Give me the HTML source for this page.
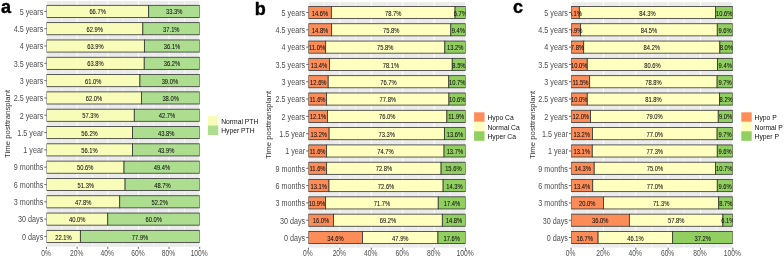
<!DOCTYPE html>
<html><head><meta charset="utf-8"><title>Figure</title>
<style>
html,body{margin:0;padding:0;background:#fff;width:784px;height:258px;overflow:hidden;font-family:"Liberation Sans",sans-serif;}
svg{display:block;will-change:transform;}
</style></head><body>
<svg width="784" height="258" viewBox="0 0 784 258">
<rect width="784" height="258" fill="#FFFFFF"/>
<clipPath id="clipa"><rect x="46.5" y="1" width="153.2" height="245.8"/></clipPath>
<rect x="46.5" y="1" width="153.2" height="245.8" fill="#EBEBEB"/>
<line x1="46.5" y1="1" x2="46.5" y2="246.8" stroke="#FFFFFF" stroke-width="1.0"/>
<line x1="61.82" y1="1" x2="61.82" y2="246.8" stroke="#FFFFFF" stroke-width="0.55"/>
<line x1="77.14" y1="1" x2="77.14" y2="246.8" stroke="#FFFFFF" stroke-width="1.0"/>
<line x1="92.46" y1="1" x2="92.46" y2="246.8" stroke="#FFFFFF" stroke-width="0.55"/>
<line x1="107.78" y1="1" x2="107.78" y2="246.8" stroke="#FFFFFF" stroke-width="1.0"/>
<line x1="123.1" y1="1" x2="123.1" y2="246.8" stroke="#FFFFFF" stroke-width="0.55"/>
<line x1="138.42" y1="1" x2="138.42" y2="246.8" stroke="#FFFFFF" stroke-width="1.0"/>
<line x1="153.74" y1="1" x2="153.74" y2="246.8" stroke="#FFFFFF" stroke-width="0.55"/>
<line x1="169.06" y1="1" x2="169.06" y2="246.8" stroke="#FFFFFF" stroke-width="1.0"/>
<line x1="184.38" y1="1" x2="184.38" y2="246.8" stroke="#FFFFFF" stroke-width="0.55"/>
<line x1="199.7" y1="1" x2="199.7" y2="246.8" stroke="#FFFFFF" stroke-width="1.0"/>
<g clip-path="url(#clipa)">
<rect x="46.5" y="5.33" width="102.18" height="12.12" fill="#F7FCB9" stroke="#333" stroke-width="0.8"/>
<rect x="148.68" y="5.33" width="51.02" height="12.12" fill="#ADDD8E" stroke="#333" stroke-width="0.8"/>
<rect x="46.5" y="22.64" width="96.36" height="12.12" fill="#F7FCB9" stroke="#333" stroke-width="0.8"/>
<rect x="142.86" y="22.64" width="56.84" height="12.12" fill="#ADDD8E" stroke="#333" stroke-width="0.8"/>
<rect x="46.5" y="39.95" width="97.89" height="12.12" fill="#F7FCB9" stroke="#333" stroke-width="0.8"/>
<rect x="144.39" y="39.95" width="55.31" height="12.12" fill="#ADDD8E" stroke="#333" stroke-width="0.8"/>
<rect x="46.5" y="57.26" width="97.74" height="12.12" fill="#F7FCB9" stroke="#333" stroke-width="0.8"/>
<rect x="144.24" y="57.26" width="55.46" height="12.12" fill="#ADDD8E" stroke="#333" stroke-width="0.8"/>
<rect x="46.5" y="74.57" width="93.45" height="12.12" fill="#F7FCB9" stroke="#333" stroke-width="0.8"/>
<rect x="139.95" y="74.57" width="59.75" height="12.12" fill="#ADDD8E" stroke="#333" stroke-width="0.8"/>
<rect x="46.5" y="91.88" width="94.98" height="12.12" fill="#F7FCB9" stroke="#333" stroke-width="0.8"/>
<rect x="141.48" y="91.88" width="58.22" height="12.12" fill="#ADDD8E" stroke="#333" stroke-width="0.8"/>
<rect x="46.5" y="109.19" width="87.78" height="12.12" fill="#F7FCB9" stroke="#333" stroke-width="0.8"/>
<rect x="134.28" y="109.19" width="65.42" height="12.12" fill="#ADDD8E" stroke="#333" stroke-width="0.8"/>
<rect x="46.5" y="126.5" width="86.1" height="12.12" fill="#F7FCB9" stroke="#333" stroke-width="0.8"/>
<rect x="132.6" y="126.5" width="67.1" height="12.12" fill="#ADDD8E" stroke="#333" stroke-width="0.8"/>
<rect x="46.5" y="143.81" width="85.95" height="12.12" fill="#F7FCB9" stroke="#333" stroke-width="0.8"/>
<rect x="132.45" y="143.81" width="67.25" height="12.12" fill="#ADDD8E" stroke="#333" stroke-width="0.8"/>
<rect x="46.5" y="161.12" width="77.52" height="12.12" fill="#F7FCB9" stroke="#333" stroke-width="0.8"/>
<rect x="124.02" y="161.12" width="75.68" height="12.12" fill="#ADDD8E" stroke="#333" stroke-width="0.8"/>
<rect x="46.5" y="178.43" width="78.59" height="12.12" fill="#F7FCB9" stroke="#333" stroke-width="0.8"/>
<rect x="125.09" y="178.43" width="74.61" height="12.12" fill="#ADDD8E" stroke="#333" stroke-width="0.8"/>
<rect x="46.5" y="195.74" width="73.23" height="12.12" fill="#F7FCB9" stroke="#333" stroke-width="0.8"/>
<rect x="119.73" y="195.74" width="79.97" height="12.12" fill="#ADDD8E" stroke="#333" stroke-width="0.8"/>
<rect x="46.5" y="213.05" width="61.28" height="12.12" fill="#F7FCB9" stroke="#333" stroke-width="0.8"/>
<rect x="107.78" y="213.05" width="91.92" height="12.12" fill="#ADDD8E" stroke="#333" stroke-width="0.8"/>
<rect x="46.5" y="230.36" width="33.86" height="12.12" fill="#F7FCB9" stroke="#333" stroke-width="0.8"/>
<rect x="80.36" y="230.36" width="119.34" height="12.12" fill="#ADDD8E" stroke="#333" stroke-width="0.8"/>
<g font-family="Liberation Sans" font-size="5.8" fill="#111" stroke="#111" stroke-width="0.06" text-anchor="middle">
<text transform="translate(97.59 14.49) scale(1 1.1)">66.7%</text>
<text transform="translate(174.19 14.49) scale(1 1.1)">33.3%</text>
<text transform="translate(94.68 31.8) scale(1 1.1)">62.9%</text>
<text transform="translate(171.28 31.8) scale(1 1.1)">37.1%</text>
<text transform="translate(95.45 49.11) scale(1 1.1)">63.9%</text>
<text transform="translate(172.05 49.11) scale(1 1.1)">36.1%</text>
<text transform="translate(95.37 66.42) scale(1 1.1)">63.8%</text>
<text transform="translate(171.97 66.42) scale(1 1.1)">36.2%</text>
<text transform="translate(93.23 83.73) scale(1 1.1)">61.0%</text>
<text transform="translate(169.83 83.73) scale(1 1.1)">39.0%</text>
<text transform="translate(93.99 101.04) scale(1 1.1)">62.0%</text>
<text transform="translate(170.59 101.04) scale(1 1.1)">38.0%</text>
<text transform="translate(90.39 118.35) scale(1 1.1)">57.3%</text>
<text transform="translate(166.99 118.35) scale(1 1.1)">42.7%</text>
<text transform="translate(89.55 135.66) scale(1 1.1)">56.2%</text>
<text transform="translate(166.15 135.66) scale(1 1.1)">43.8%</text>
<text transform="translate(89.47 152.97) scale(1 1.1)">56.1%</text>
<text transform="translate(166.07 152.97) scale(1 1.1)">43.9%</text>
<text transform="translate(85.26 170.28) scale(1 1.1)">50.6%</text>
<text transform="translate(161.86 170.28) scale(1 1.1)">49.4%</text>
<text transform="translate(85.8 187.59) scale(1 1.1)">51.3%</text>
<text transform="translate(162.4 187.59) scale(1 1.1)">48.7%</text>
<text transform="translate(83.11 204.9) scale(1 1.1)">47.8%</text>
<text transform="translate(159.71 204.9) scale(1 1.1)">52.2%</text>
<text transform="translate(77.14 222.21) scale(1 1.1)">40.0%</text>
<text transform="translate(153.74 222.21) scale(1 1.1)">60.0%</text>
<text transform="translate(63.43 239.52) scale(1 1.1)">22.1%</text>
<text transform="translate(140.03 239.52) scale(1 1.1)">77.9%</text>
</g></g>
<g font-family="Liberation Sans" font-size="7.2" fill="#4D4D4D" text-anchor="end">
<line x1="44.3" y1="11.39" x2="46.5" y2="11.39" stroke="#333" stroke-width="0.75"/>
<text transform="translate(43.3 14.69) scale(1 1.15)">5 years</text>
<line x1="44.3" y1="28.7" x2="46.5" y2="28.7" stroke="#333" stroke-width="0.75"/>
<text transform="translate(43.3 32) scale(1 1.15)">4.5 years</text>
<line x1="44.3" y1="46.01" x2="46.5" y2="46.01" stroke="#333" stroke-width="0.75"/>
<text transform="translate(43.3 49.31) scale(1 1.15)">4 years</text>
<line x1="44.3" y1="63.32" x2="46.5" y2="63.32" stroke="#333" stroke-width="0.75"/>
<text transform="translate(43.3 66.62) scale(1 1.15)">3.5 years</text>
<line x1="44.3" y1="80.63" x2="46.5" y2="80.63" stroke="#333" stroke-width="0.75"/>
<text transform="translate(43.3 83.93) scale(1 1.15)">3 years</text>
<line x1="44.3" y1="97.94" x2="46.5" y2="97.94" stroke="#333" stroke-width="0.75"/>
<text transform="translate(43.3 101.24) scale(1 1.15)">2.5 years</text>
<line x1="44.3" y1="115.25" x2="46.5" y2="115.25" stroke="#333" stroke-width="0.75"/>
<text transform="translate(43.3 118.55) scale(1 1.15)">2 years</text>
<line x1="44.3" y1="132.56" x2="46.5" y2="132.56" stroke="#333" stroke-width="0.75"/>
<text transform="translate(43.3 135.86) scale(1 1.15)">1.5 year</text>
<line x1="44.3" y1="149.87" x2="46.5" y2="149.87" stroke="#333" stroke-width="0.75"/>
<text transform="translate(43.3 153.17) scale(1 1.15)">1 year</text>
<line x1="44.3" y1="167.18" x2="46.5" y2="167.18" stroke="#333" stroke-width="0.75"/>
<text transform="translate(43.3 170.48) scale(1 1.15)">9 months</text>
<line x1="44.3" y1="184.49" x2="46.5" y2="184.49" stroke="#333" stroke-width="0.75"/>
<text transform="translate(43.3 187.79) scale(1 1.15)">6 months</text>
<line x1="44.3" y1="201.8" x2="46.5" y2="201.8" stroke="#333" stroke-width="0.75"/>
<text transform="translate(43.3 205.1) scale(1 1.15)">3 months</text>
<line x1="44.3" y1="219.11" x2="46.5" y2="219.11" stroke="#333" stroke-width="0.75"/>
<text transform="translate(43.3 222.41) scale(1 1.15)">30 days</text>
<line x1="44.3" y1="236.42" x2="46.5" y2="236.42" stroke="#333" stroke-width="0.75"/>
<text transform="translate(43.3 239.72) scale(1 1.15)">0 days</text>
</g>
<g font-family="Liberation Sans" font-size="6.7" fill="#4D4D4D" text-anchor="middle">
<line x1="46.5" y1="246.8" x2="46.5" y2="248.9" stroke="#333" stroke-width="0.75"/>
<text transform="translate(46 255.8) scale(1 1.24)">0%</text>
<line x1="77.14" y1="246.8" x2="77.14" y2="248.9" stroke="#333" stroke-width="0.75"/>
<text transform="translate(76.64 255.8) scale(1 1.24)">20%</text>
<line x1="107.78" y1="246.8" x2="107.78" y2="248.9" stroke="#333" stroke-width="0.75"/>
<text transform="translate(107.28 255.8) scale(1 1.24)">40%</text>
<line x1="138.42" y1="246.8" x2="138.42" y2="248.9" stroke="#333" stroke-width="0.75"/>
<text transform="translate(137.92 255.8) scale(1 1.24)">60%</text>
<line x1="169.06" y1="246.8" x2="169.06" y2="248.9" stroke="#333" stroke-width="0.75"/>
<text transform="translate(168.56 255.8) scale(1 1.24)">80%</text>
<line x1="199.7" y1="246.8" x2="199.7" y2="248.9" stroke="#333" stroke-width="0.75"/>
<text transform="translate(199.2 255.8) scale(1 1.24)">100%</text>
</g>
<text x="0" y="0" transform="translate(9.5 123.9) rotate(-90)" font-family="Liberation Sans" font-size="7.8" fill="#333" text-anchor="middle">Time posttransplant</text>
<text x="1" y="13" font-family="Liberation Sans" font-size="18" font-weight="bold" fill="#000" stroke="#000" stroke-width="0.4">a</text>
<rect x="207.9" y="116" width="10.4" height="9.5" fill="#F7FCB9"/>
<text x="221.2" y="123.85" font-family="Liberation Sans" font-size="6.75" fill="#111">Normal PTH</text>
<rect x="207.9" y="125.5" width="10.4" height="9.5" fill="#ADDD8E"/>
<text x="221.2" y="133.35" font-family="Liberation Sans" font-size="6.75" fill="#111">Hyper PTH</text>
<clipPath id="clipb"><rect x="308.4" y="2.1" width="157.2" height="245.6"/></clipPath>
<rect x="308.4" y="2.1" width="157.2" height="245.6" fill="#EBEBEB"/>
<line x1="308.4" y1="2.1" x2="308.4" y2="247.7" stroke="#FFFFFF" stroke-width="1.0"/>
<line x1="324.12" y1="2.1" x2="324.12" y2="247.7" stroke="#FFFFFF" stroke-width="0.55"/>
<line x1="339.84" y1="2.1" x2="339.84" y2="247.7" stroke="#FFFFFF" stroke-width="1.0"/>
<line x1="355.56" y1="2.1" x2="355.56" y2="247.7" stroke="#FFFFFF" stroke-width="0.55"/>
<line x1="371.28" y1="2.1" x2="371.28" y2="247.7" stroke="#FFFFFF" stroke-width="1.0"/>
<line x1="387" y1="2.1" x2="387" y2="247.7" stroke="#FFFFFF" stroke-width="0.55"/>
<line x1="402.72" y1="2.1" x2="402.72" y2="247.7" stroke="#FFFFFF" stroke-width="1.0"/>
<line x1="418.44" y1="2.1" x2="418.44" y2="247.7" stroke="#FFFFFF" stroke-width="0.55"/>
<line x1="434.16" y1="2.1" x2="434.16" y2="247.7" stroke="#FFFFFF" stroke-width="1.0"/>
<line x1="449.88" y1="2.1" x2="449.88" y2="247.7" stroke="#FFFFFF" stroke-width="0.55"/>
<line x1="465.6" y1="2.1" x2="465.6" y2="247.7" stroke="#FFFFFF" stroke-width="1.0"/>
<g clip-path="url(#clipb)">
<rect x="308.4" y="6.43" width="22.95" height="12.12" fill="#FC8D59" stroke="#333" stroke-width="0.8"/>
<rect x="331.35" y="6.43" width="123.72" height="12.12" fill="#FFFFBF" stroke="#333" stroke-width="0.8"/>
<rect x="455.07" y="6.43" width="10.53" height="12.12" fill="#91CF60" stroke="#333" stroke-width="0.8"/>
<rect x="308.4" y="23.74" width="23.27" height="12.12" fill="#FC8D59" stroke="#333" stroke-width="0.8"/>
<rect x="331.67" y="23.74" width="119.16" height="12.12" fill="#FFFFBF" stroke="#333" stroke-width="0.8"/>
<rect x="450.82" y="23.74" width="14.78" height="12.12" fill="#91CF60" stroke="#333" stroke-width="0.8"/>
<rect x="308.4" y="41.05" width="17.29" height="12.12" fill="#FC8D59" stroke="#333" stroke-width="0.8"/>
<rect x="325.69" y="41.05" width="119.16" height="12.12" fill="#FFFFBF" stroke="#333" stroke-width="0.8"/>
<rect x="444.85" y="41.05" width="20.75" height="12.12" fill="#91CF60" stroke="#333" stroke-width="0.8"/>
<rect x="308.4" y="58.36" width="21.06" height="12.12" fill="#FC8D59" stroke="#333" stroke-width="0.8"/>
<rect x="329.46" y="58.36" width="122.77" height="12.12" fill="#FFFFBF" stroke="#333" stroke-width="0.8"/>
<rect x="452.24" y="58.36" width="13.36" height="12.12" fill="#91CF60" stroke="#333" stroke-width="0.8"/>
<rect x="308.4" y="75.67" width="19.81" height="12.12" fill="#FC8D59" stroke="#333" stroke-width="0.8"/>
<rect x="328.21" y="75.67" width="120.57" height="12.12" fill="#FFFFBF" stroke="#333" stroke-width="0.8"/>
<rect x="448.78" y="75.67" width="16.82" height="12.12" fill="#91CF60" stroke="#333" stroke-width="0.8"/>
<rect x="308.4" y="92.98" width="18.24" height="12.12" fill="#FC8D59" stroke="#333" stroke-width="0.8"/>
<rect x="326.64" y="92.98" width="122.3" height="12.12" fill="#FFFFBF" stroke="#333" stroke-width="0.8"/>
<rect x="448.94" y="92.98" width="16.66" height="12.12" fill="#91CF60" stroke="#333" stroke-width="0.8"/>
<rect x="308.4" y="110.29" width="19.02" height="12.12" fill="#FC8D59" stroke="#333" stroke-width="0.8"/>
<rect x="327.42" y="110.29" width="119.47" height="12.12" fill="#FFFFBF" stroke="#333" stroke-width="0.8"/>
<rect x="446.89" y="110.29" width="18.71" height="12.12" fill="#91CF60" stroke="#333" stroke-width="0.8"/>
<rect x="308.4" y="127.6" width="20.75" height="12.12" fill="#FC8D59" stroke="#333" stroke-width="0.8"/>
<rect x="329.15" y="127.6" width="115.23" height="12.12" fill="#FFFFBF" stroke="#333" stroke-width="0.8"/>
<rect x="444.38" y="127.6" width="21.22" height="12.12" fill="#91CF60" stroke="#333" stroke-width="0.8"/>
<rect x="308.4" y="144.91" width="18.24" height="12.12" fill="#FC8D59" stroke="#333" stroke-width="0.8"/>
<rect x="326.64" y="144.91" width="117.43" height="12.12" fill="#FFFFBF" stroke="#333" stroke-width="0.8"/>
<rect x="444.06" y="144.91" width="21.54" height="12.12" fill="#91CF60" stroke="#333" stroke-width="0.8"/>
<rect x="308.4" y="162.22" width="18.24" height="12.12" fill="#FC8D59" stroke="#333" stroke-width="0.8"/>
<rect x="326.64" y="162.22" width="114.44" height="12.12" fill="#FFFFBF" stroke="#333" stroke-width="0.8"/>
<rect x="441.08" y="162.22" width="24.52" height="12.12" fill="#91CF60" stroke="#333" stroke-width="0.8"/>
<rect x="308.4" y="179.53" width="20.59" height="12.12" fill="#FC8D59" stroke="#333" stroke-width="0.8"/>
<rect x="328.99" y="179.53" width="114.13" height="12.12" fill="#FFFFBF" stroke="#333" stroke-width="0.8"/>
<rect x="443.12" y="179.53" width="22.48" height="12.12" fill="#91CF60" stroke="#333" stroke-width="0.8"/>
<rect x="308.4" y="196.84" width="17.13" height="12.12" fill="#FC8D59" stroke="#333" stroke-width="0.8"/>
<rect x="325.53" y="196.84" width="112.71" height="12.12" fill="#FFFFBF" stroke="#333" stroke-width="0.8"/>
<rect x="438.25" y="196.84" width="27.35" height="12.12" fill="#91CF60" stroke="#333" stroke-width="0.8"/>
<rect x="308.4" y="214.15" width="25.15" height="12.12" fill="#FC8D59" stroke="#333" stroke-width="0.8"/>
<rect x="333.55" y="214.15" width="108.78" height="12.12" fill="#FFFFBF" stroke="#333" stroke-width="0.8"/>
<rect x="442.33" y="214.15" width="23.27" height="12.12" fill="#91CF60" stroke="#333" stroke-width="0.8"/>
<rect x="308.4" y="231.46" width="54.23" height="12.12" fill="#FC8D59" stroke="#333" stroke-width="0.8"/>
<rect x="362.63" y="231.46" width="75.3" height="12.12" fill="#FFFFBF" stroke="#333" stroke-width="0.8"/>
<rect x="437.93" y="231.46" width="27.67" height="12.12" fill="#91CF60" stroke="#333" stroke-width="0.8"/>
<g font-family="Liberation Sans" font-size="5.8" fill="#111" stroke="#111" stroke-width="0.06" text-anchor="middle">
<text transform="translate(319.88 15.59) scale(1 1.1)">14.6%</text>
<text transform="translate(393.21 15.59) scale(1 1.1)">78.7%</text>
<text transform="translate(460.33 15.59) scale(1 1.1)">6.7%</text>
<text transform="translate(320.03 32.9) scale(1 1.1)">14.8%</text>
<text transform="translate(391.24 32.9) scale(1 1.1)">75.8%</text>
<text transform="translate(458.21 32.9) scale(1 1.1)">9.4%</text>
<text transform="translate(317.05 50.21) scale(1 1.1)">11.0%</text>
<text transform="translate(385.27 50.21) scale(1 1.1)">75.8%</text>
<text transform="translate(455.22 50.21) scale(1 1.1)">13.2%</text>
<text transform="translate(318.93 67.52) scale(1 1.1)">13.4%</text>
<text transform="translate(390.85 67.52) scale(1 1.1)">78.1%</text>
<text transform="translate(458.92 67.52) scale(1 1.1)">8.5%</text>
<text transform="translate(318.3 84.83) scale(1 1.1)">12.6%</text>
<text transform="translate(388.49 84.83) scale(1 1.1)">76.7%</text>
<text transform="translate(457.19 84.83) scale(1 1.1)">10.7%</text>
<text transform="translate(317.52 102.14) scale(1 1.1)">11.6%</text>
<text transform="translate(387.79 102.14) scale(1 1.1)">77.8%</text>
<text transform="translate(457.27 102.14) scale(1 1.1)">10.6%</text>
<text transform="translate(317.91 119.45) scale(1 1.1)">12.1%</text>
<text transform="translate(387.16 119.45) scale(1 1.1)">76.0%</text>
<text transform="translate(456.25 119.45) scale(1 1.1)">11.9%</text>
<text transform="translate(318.78 136.76) scale(1 1.1)">13.2%</text>
<text transform="translate(386.76 136.76) scale(1 1.1)">73.3%</text>
<text transform="translate(454.99 136.76) scale(1 1.1)">13.6%</text>
<text transform="translate(317.52 154.07) scale(1 1.1)">11.6%</text>
<text transform="translate(385.35 154.07) scale(1 1.1)">74.7%</text>
<text transform="translate(454.83 154.07) scale(1 1.1)">13.7%</text>
<text transform="translate(317.52 171.38) scale(1 1.1)">11.6%</text>
<text transform="translate(383.86 171.38) scale(1 1.1)">72.8%</text>
<text transform="translate(453.34 171.38) scale(1 1.1)">15.6%</text>
<text transform="translate(318.7 188.69) scale(1 1.1)">13.1%</text>
<text transform="translate(386.06 188.69) scale(1 1.1)">72.6%</text>
<text transform="translate(454.36 188.69) scale(1 1.1)">14.3%</text>
<text transform="translate(316.97 206) scale(1 1.1)">10.9%</text>
<text transform="translate(381.89 206) scale(1 1.1)">71.7%</text>
<text transform="translate(451.92 206) scale(1 1.1)">17.4%</text>
<text transform="translate(320.98 223.31) scale(1 1.1)">16.0%</text>
<text transform="translate(387.94 223.31) scale(1 1.1)">69.2%</text>
<text transform="translate(453.97 223.31) scale(1 1.1)">14.8%</text>
<text transform="translate(335.52 240.62) scale(1 1.1)">34.6%</text>
<text transform="translate(400.28 240.62) scale(1 1.1)">47.9%</text>
<text transform="translate(451.77 240.62) scale(1 1.1)">17.6%</text>
</g></g>
<g font-family="Liberation Sans" font-size="7.2" fill="#4D4D4D" text-anchor="end">
<line x1="306.2" y1="12.49" x2="308.4" y2="12.49" stroke="#333" stroke-width="0.75"/>
<text transform="translate(305.2 15.79) scale(1 1.15)">5 years</text>
<line x1="306.2" y1="29.8" x2="308.4" y2="29.8" stroke="#333" stroke-width="0.75"/>
<text transform="translate(305.2 33.1) scale(1 1.15)">4.5 years</text>
<line x1="306.2" y1="47.11" x2="308.4" y2="47.11" stroke="#333" stroke-width="0.75"/>
<text transform="translate(305.2 50.41) scale(1 1.15)">4 years</text>
<line x1="306.2" y1="64.42" x2="308.4" y2="64.42" stroke="#333" stroke-width="0.75"/>
<text transform="translate(305.2 67.72) scale(1 1.15)">3.5 years</text>
<line x1="306.2" y1="81.73" x2="308.4" y2="81.73" stroke="#333" stroke-width="0.75"/>
<text transform="translate(305.2 85.03) scale(1 1.15)">3 years</text>
<line x1="306.2" y1="99.04" x2="308.4" y2="99.04" stroke="#333" stroke-width="0.75"/>
<text transform="translate(305.2 102.34) scale(1 1.15)">2.5 years</text>
<line x1="306.2" y1="116.35" x2="308.4" y2="116.35" stroke="#333" stroke-width="0.75"/>
<text transform="translate(305.2 119.65) scale(1 1.15)">2 years</text>
<line x1="306.2" y1="133.66" x2="308.4" y2="133.66" stroke="#333" stroke-width="0.75"/>
<text transform="translate(305.2 136.96) scale(1 1.15)">1.5 year</text>
<line x1="306.2" y1="150.97" x2="308.4" y2="150.97" stroke="#333" stroke-width="0.75"/>
<text transform="translate(305.2 154.27) scale(1 1.15)">1 year</text>
<line x1="306.2" y1="168.28" x2="308.4" y2="168.28" stroke="#333" stroke-width="0.75"/>
<text transform="translate(305.2 171.58) scale(1 1.15)">9 months</text>
<line x1="306.2" y1="185.59" x2="308.4" y2="185.59" stroke="#333" stroke-width="0.75"/>
<text transform="translate(305.2 188.89) scale(1 1.15)">6 months</text>
<line x1="306.2" y1="202.9" x2="308.4" y2="202.9" stroke="#333" stroke-width="0.75"/>
<text transform="translate(305.2 206.2) scale(1 1.15)">3 months</text>
<line x1="306.2" y1="220.21" x2="308.4" y2="220.21" stroke="#333" stroke-width="0.75"/>
<text transform="translate(305.2 223.51) scale(1 1.15)">30 days</text>
<line x1="306.2" y1="237.52" x2="308.4" y2="237.52" stroke="#333" stroke-width="0.75"/>
<text transform="translate(305.2 240.82) scale(1 1.15)">0 days</text>
</g>
<g font-family="Liberation Sans" font-size="6.7" fill="#4D4D4D" text-anchor="middle">
<line x1="308.4" y1="247.7" x2="308.4" y2="249.8" stroke="#333" stroke-width="0.75"/>
<text transform="translate(307.9 256.4) scale(1 1.24)">0%</text>
<line x1="339.84" y1="247.7" x2="339.84" y2="249.8" stroke="#333" stroke-width="0.75"/>
<text transform="translate(339.34 256.4) scale(1 1.24)">20%</text>
<line x1="371.28" y1="247.7" x2="371.28" y2="249.8" stroke="#333" stroke-width="0.75"/>
<text transform="translate(370.78 256.4) scale(1 1.24)">40%</text>
<line x1="402.72" y1="247.7" x2="402.72" y2="249.8" stroke="#333" stroke-width="0.75"/>
<text transform="translate(402.22 256.4) scale(1 1.24)">60%</text>
<line x1="434.16" y1="247.7" x2="434.16" y2="249.8" stroke="#333" stroke-width="0.75"/>
<text transform="translate(433.66 256.4) scale(1 1.24)">80%</text>
<line x1="465.6" y1="247.7" x2="465.6" y2="249.8" stroke="#333" stroke-width="0.75"/>
<text transform="translate(465.1 256.4) scale(1 1.24)">100%</text>
</g>
<text x="0" y="0" transform="translate(270.8 124.9) rotate(-90)" font-family="Liberation Sans" font-size="7.8" fill="#333" text-anchor="middle">Time posttransplant</text>
<text x="254.7" y="14.5" font-family="Liberation Sans" font-size="18" font-weight="bold" fill="#000" stroke="#000" stroke-width="0.4">b</text>
<rect x="474.1" y="112.3" width="10.4" height="9.5" fill="#FC8D59"/>
<text x="487.4" y="120.15" font-family="Liberation Sans" font-size="6.75" fill="#111">Hypo Ca</text>
<rect x="474.1" y="121.8" width="10.4" height="9.5" fill="#FFFFBF"/>
<text x="487.4" y="129.65" font-family="Liberation Sans" font-size="6.75" fill="#111">Normal Ca</text>
<rect x="474.1" y="131.3" width="10.4" height="9.5" fill="#91CF60"/>
<text x="487.4" y="139.15" font-family="Liberation Sans" font-size="6.75" fill="#111">Hyper Ca</text>
<clipPath id="clipc"><rect x="571.1" y="2.1" width="161.7" height="245.6"/></clipPath>
<rect x="571.1" y="2.1" width="161.7" height="245.6" fill="#EBEBEB"/>
<line x1="571.1" y1="2.1" x2="571.1" y2="247.7" stroke="#FFFFFF" stroke-width="1.0"/>
<line x1="587.27" y1="2.1" x2="587.27" y2="247.7" stroke="#FFFFFF" stroke-width="0.55"/>
<line x1="603.44" y1="2.1" x2="603.44" y2="247.7" stroke="#FFFFFF" stroke-width="1.0"/>
<line x1="619.61" y1="2.1" x2="619.61" y2="247.7" stroke="#FFFFFF" stroke-width="0.55"/>
<line x1="635.78" y1="2.1" x2="635.78" y2="247.7" stroke="#FFFFFF" stroke-width="1.0"/>
<line x1="651.95" y1="2.1" x2="651.95" y2="247.7" stroke="#FFFFFF" stroke-width="0.55"/>
<line x1="668.12" y1="2.1" x2="668.12" y2="247.7" stroke="#FFFFFF" stroke-width="1.0"/>
<line x1="684.29" y1="2.1" x2="684.29" y2="247.7" stroke="#FFFFFF" stroke-width="0.55"/>
<line x1="700.46" y1="2.1" x2="700.46" y2="247.7" stroke="#FFFFFF" stroke-width="1.0"/>
<line x1="716.63" y1="2.1" x2="716.63" y2="247.7" stroke="#FFFFFF" stroke-width="0.55"/>
<line x1="732.8" y1="2.1" x2="732.8" y2="247.7" stroke="#FFFFFF" stroke-width="1.0"/>
<g clip-path="url(#clipc)">
<rect x="571.1" y="6.43" width="8.25" height="12.12" fill="#FC8D59" stroke="#333" stroke-width="0.8"/>
<rect x="579.35" y="6.43" width="136.31" height="12.12" fill="#FFFFBF" stroke="#333" stroke-width="0.8"/>
<rect x="715.66" y="6.43" width="17.14" height="12.12" fill="#91CF60" stroke="#333" stroke-width="0.8"/>
<rect x="571.1" y="23.74" width="9.54" height="12.12" fill="#FC8D59" stroke="#333" stroke-width="0.8"/>
<rect x="580.64" y="23.74" width="136.64" height="12.12" fill="#FFFFBF" stroke="#333" stroke-width="0.8"/>
<rect x="717.28" y="23.74" width="15.52" height="12.12" fill="#91CF60" stroke="#333" stroke-width="0.8"/>
<rect x="571.1" y="41.05" width="12.61" height="12.12" fill="#FC8D59" stroke="#333" stroke-width="0.8"/>
<rect x="583.71" y="41.05" width="136.15" height="12.12" fill="#FFFFBF" stroke="#333" stroke-width="0.8"/>
<rect x="719.86" y="41.05" width="12.94" height="12.12" fill="#91CF60" stroke="#333" stroke-width="0.8"/>
<rect x="571.1" y="58.36" width="16.17" height="12.12" fill="#FC8D59" stroke="#333" stroke-width="0.8"/>
<rect x="587.27" y="58.36" width="130.33" height="12.12" fill="#FFFFBF" stroke="#333" stroke-width="0.8"/>
<rect x="717.6" y="58.36" width="15.2" height="12.12" fill="#91CF60" stroke="#333" stroke-width="0.8"/>
<rect x="571.1" y="75.67" width="18.6" height="12.12" fill="#FC8D59" stroke="#333" stroke-width="0.8"/>
<rect x="589.7" y="75.67" width="127.42" height="12.12" fill="#FFFFBF" stroke="#333" stroke-width="0.8"/>
<rect x="717.12" y="75.67" width="15.68" height="12.12" fill="#91CF60" stroke="#333" stroke-width="0.8"/>
<rect x="571.1" y="92.98" width="16.17" height="12.12" fill="#FC8D59" stroke="#333" stroke-width="0.8"/>
<rect x="587.27" y="92.98" width="132.27" height="12.12" fill="#FFFFBF" stroke="#333" stroke-width="0.8"/>
<rect x="719.54" y="92.98" width="13.26" height="12.12" fill="#91CF60" stroke="#333" stroke-width="0.8"/>
<rect x="571.1" y="110.29" width="19.4" height="12.12" fill="#FC8D59" stroke="#333" stroke-width="0.8"/>
<rect x="590.5" y="110.29" width="127.74" height="12.12" fill="#FFFFBF" stroke="#333" stroke-width="0.8"/>
<rect x="718.25" y="110.29" width="14.55" height="12.12" fill="#91CF60" stroke="#333" stroke-width="0.8"/>
<rect x="571.1" y="127.6" width="21.34" height="12.12" fill="#FC8D59" stroke="#333" stroke-width="0.8"/>
<rect x="592.44" y="127.6" width="124.67" height="12.12" fill="#FFFFBF" stroke="#333" stroke-width="0.8"/>
<rect x="717.12" y="127.6" width="15.68" height="12.12" fill="#91CF60" stroke="#333" stroke-width="0.8"/>
<rect x="571.1" y="144.91" width="21.18" height="12.12" fill="#FC8D59" stroke="#333" stroke-width="0.8"/>
<rect x="592.28" y="144.91" width="124.99" height="12.12" fill="#FFFFBF" stroke="#333" stroke-width="0.8"/>
<rect x="717.28" y="144.91" width="15.52" height="12.12" fill="#91CF60" stroke="#333" stroke-width="0.8"/>
<rect x="571.1" y="162.22" width="23.12" height="12.12" fill="#FC8D59" stroke="#333" stroke-width="0.8"/>
<rect x="594.22" y="162.22" width="121.27" height="12.12" fill="#FFFFBF" stroke="#333" stroke-width="0.8"/>
<rect x="715.5" y="162.22" width="17.3" height="12.12" fill="#91CF60" stroke="#333" stroke-width="0.8"/>
<rect x="571.1" y="179.53" width="21.67" height="12.12" fill="#FC8D59" stroke="#333" stroke-width="0.8"/>
<rect x="592.77" y="179.53" width="124.51" height="12.12" fill="#FFFFBF" stroke="#333" stroke-width="0.8"/>
<rect x="717.28" y="179.53" width="15.52" height="12.12" fill="#91CF60" stroke="#333" stroke-width="0.8"/>
<rect x="571.1" y="196.84" width="32.34" height="12.12" fill="#FC8D59" stroke="#333" stroke-width="0.8"/>
<rect x="603.44" y="196.84" width="115.29" height="12.12" fill="#FFFFBF" stroke="#333" stroke-width="0.8"/>
<rect x="718.73" y="196.84" width="14.07" height="12.12" fill="#91CF60" stroke="#333" stroke-width="0.8"/>
<rect x="571.1" y="214.15" width="58.27" height="12.12" fill="#FC8D59" stroke="#333" stroke-width="0.8"/>
<rect x="629.37" y="214.15" width="93.56" height="12.12" fill="#FFFFBF" stroke="#333" stroke-width="0.8"/>
<rect x="722.93" y="214.15" width="9.87" height="12.12" fill="#91CF60" stroke="#333" stroke-width="0.8"/>
<rect x="571.1" y="231.46" width="27" height="12.12" fill="#FC8D59" stroke="#333" stroke-width="0.8"/>
<rect x="598.1" y="231.46" width="74.54" height="12.12" fill="#FFFFBF" stroke="#333" stroke-width="0.8"/>
<rect x="672.65" y="231.46" width="60.15" height="12.12" fill="#91CF60" stroke="#333" stroke-width="0.8"/>
<g font-family="Liberation Sans" font-size="5.8" fill="#111" stroke="#111" stroke-width="0.06" text-anchor="middle">
<text transform="translate(575.22 15.59) scale(1 1.1)">5.1%</text>
<text transform="translate(647.5 15.59) scale(1 1.1)">84.3%</text>
<text transform="translate(724.23 15.59) scale(1 1.1)">10.6%</text>
<text transform="translate(575.87 32.9) scale(1 1.1)">5.9%</text>
<text transform="translate(648.96 32.9) scale(1 1.1)">84.5%</text>
<text transform="translate(725.04 32.9) scale(1 1.1)">9.6%</text>
<text transform="translate(577.41 50.21) scale(1 1.1)">7.8%</text>
<text transform="translate(651.79 50.21) scale(1 1.1)">84.2%</text>
<text transform="translate(726.33 50.21) scale(1 1.1)">8.0%</text>
<text transform="translate(579.18 67.52) scale(1 1.1)">10.0%</text>
<text transform="translate(652.44 67.52) scale(1 1.1)">80.6%</text>
<text transform="translate(725.2 67.52) scale(1 1.1)">9.4%</text>
<text transform="translate(580.4 84.83) scale(1 1.1)">11.5%</text>
<text transform="translate(653.41 84.83) scale(1 1.1)">78.8%</text>
<text transform="translate(724.96 84.83) scale(1 1.1)">9.7%</text>
<text transform="translate(579.18 102.14) scale(1 1.1)">10.0%</text>
<text transform="translate(653.41 102.14) scale(1 1.1)">81.8%</text>
<text transform="translate(726.17 102.14) scale(1 1.1)">8.2%</text>
<text transform="translate(580.8 119.45) scale(1 1.1)">12.0%</text>
<text transform="translate(654.38 119.45) scale(1 1.1)">79.0%</text>
<text transform="translate(725.52 119.45) scale(1 1.1)">9.0%</text>
<text transform="translate(581.77 136.76) scale(1 1.1)">13.2%</text>
<text transform="translate(654.78 136.76) scale(1 1.1)">77.0%</text>
<text transform="translate(724.96 136.76) scale(1 1.1)">9.7%</text>
<text transform="translate(581.69 154.07) scale(1 1.1)">13.1%</text>
<text transform="translate(654.78 154.07) scale(1 1.1)">77.3%</text>
<text transform="translate(725.04 154.07) scale(1 1.1)">9.6%</text>
<text transform="translate(582.66 171.38) scale(1 1.1)">14.3%</text>
<text transform="translate(654.86 171.38) scale(1 1.1)">75.0%</text>
<text transform="translate(724.15 171.38) scale(1 1.1)">10.7%</text>
<text transform="translate(581.93 188.69) scale(1 1.1)">13.4%</text>
<text transform="translate(655.02 188.69) scale(1 1.1)">77.0%</text>
<text transform="translate(725.04 188.69) scale(1 1.1)">9.6%</text>
<text transform="translate(587.27 206) scale(1 1.1)">20.0%</text>
<text transform="translate(661.09 206) scale(1 1.1)">71.3%</text>
<text transform="translate(725.77 206) scale(1 1.1)">8.7%</text>
<text transform="translate(600.24 223.31) scale(1 1.1)">36.0%</text>
<text transform="translate(676.15 223.31) scale(1 1.1)">57.8%</text>
<text transform="translate(727.86 223.31) scale(1 1.1)">6.1%</text>
<text transform="translate(584.6 240.62) scale(1 1.1)">16.7%</text>
<text transform="translate(635.38 240.62) scale(1 1.1)">46.1%</text>
<text transform="translate(702.72 240.62) scale(1 1.1)">37.2%</text>
</g></g>
<g font-family="Liberation Sans" font-size="7.2" fill="#4D4D4D" text-anchor="end">
<line x1="568.9" y1="12.49" x2="571.1" y2="12.49" stroke="#333" stroke-width="0.75"/>
<text transform="translate(567.9 15.79) scale(1 1.15)">5 years</text>
<line x1="568.9" y1="29.8" x2="571.1" y2="29.8" stroke="#333" stroke-width="0.75"/>
<text transform="translate(567.9 33.1) scale(1 1.15)">4.5 years</text>
<line x1="568.9" y1="47.11" x2="571.1" y2="47.11" stroke="#333" stroke-width="0.75"/>
<text transform="translate(567.9 50.41) scale(1 1.15)">4 years</text>
<line x1="568.9" y1="64.42" x2="571.1" y2="64.42" stroke="#333" stroke-width="0.75"/>
<text transform="translate(567.9 67.72) scale(1 1.15)">3.5 years</text>
<line x1="568.9" y1="81.73" x2="571.1" y2="81.73" stroke="#333" stroke-width="0.75"/>
<text transform="translate(567.9 85.03) scale(1 1.15)">3 years</text>
<line x1="568.9" y1="99.04" x2="571.1" y2="99.04" stroke="#333" stroke-width="0.75"/>
<text transform="translate(567.9 102.34) scale(1 1.15)">2.5 years</text>
<line x1="568.9" y1="116.35" x2="571.1" y2="116.35" stroke="#333" stroke-width="0.75"/>
<text transform="translate(567.9 119.65) scale(1 1.15)">2 years</text>
<line x1="568.9" y1="133.66" x2="571.1" y2="133.66" stroke="#333" stroke-width="0.75"/>
<text transform="translate(567.9 136.96) scale(1 1.15)">1.5 year</text>
<line x1="568.9" y1="150.97" x2="571.1" y2="150.97" stroke="#333" stroke-width="0.75"/>
<text transform="translate(567.9 154.27) scale(1 1.15)">1 year</text>
<line x1="568.9" y1="168.28" x2="571.1" y2="168.28" stroke="#333" stroke-width="0.75"/>
<text transform="translate(567.9 171.58) scale(1 1.15)">9 months</text>
<line x1="568.9" y1="185.59" x2="571.1" y2="185.59" stroke="#333" stroke-width="0.75"/>
<text transform="translate(567.9 188.89) scale(1 1.15)">6 months</text>
<line x1="568.9" y1="202.9" x2="571.1" y2="202.9" stroke="#333" stroke-width="0.75"/>
<text transform="translate(567.9 206.2) scale(1 1.15)">3 months</text>
<line x1="568.9" y1="220.21" x2="571.1" y2="220.21" stroke="#333" stroke-width="0.75"/>
<text transform="translate(567.9 223.51) scale(1 1.15)">30 days</text>
<line x1="568.9" y1="237.52" x2="571.1" y2="237.52" stroke="#333" stroke-width="0.75"/>
<text transform="translate(567.9 240.82) scale(1 1.15)">0 days</text>
</g>
<g font-family="Liberation Sans" font-size="6.7" fill="#4D4D4D" text-anchor="middle">
<line x1="571.1" y1="247.7" x2="571.1" y2="249.8" stroke="#333" stroke-width="0.75"/>
<text transform="translate(570.6 256.4) scale(1 1.24)">0%</text>
<line x1="603.44" y1="247.7" x2="603.44" y2="249.8" stroke="#333" stroke-width="0.75"/>
<text transform="translate(602.94 256.4) scale(1 1.24)">20%</text>
<line x1="635.78" y1="247.7" x2="635.78" y2="249.8" stroke="#333" stroke-width="0.75"/>
<text transform="translate(635.28 256.4) scale(1 1.24)">40%</text>
<line x1="668.12" y1="247.7" x2="668.12" y2="249.8" stroke="#333" stroke-width="0.75"/>
<text transform="translate(667.62 256.4) scale(1 1.24)">60%</text>
<line x1="700.46" y1="247.7" x2="700.46" y2="249.8" stroke="#333" stroke-width="0.75"/>
<text transform="translate(699.96 256.4) scale(1 1.24)">80%</text>
<line x1="732.8" y1="247.7" x2="732.8" y2="249.8" stroke="#333" stroke-width="0.75"/>
<text transform="translate(732.3 256.4) scale(1 1.24)">100%</text>
</g>
<text x="0" y="0" transform="translate(535.3 124.9) rotate(-90)" font-family="Liberation Sans" font-size="7.8" fill="#333" text-anchor="middle">Time posttransplant</text>
<text x="513" y="13.4" font-family="Liberation Sans" font-size="18" font-weight="bold" fill="#000" stroke="#000" stroke-width="0.4">c</text>
<rect x="741.3" y="112.3" width="10.4" height="9.5" fill="#FC8D59"/>
<text x="754.6" y="120.15" font-family="Liberation Sans" font-size="6.75" fill="#111">Hypo P</text>
<rect x="741.3" y="121.8" width="10.4" height="9.5" fill="#FFFFBF"/>
<text x="754.6" y="129.65" font-family="Liberation Sans" font-size="6.75" fill="#111">Normal P</text>
<rect x="741.3" y="131.3" width="10.4" height="9.5" fill="#91CF60"/>
<text x="754.6" y="139.15" font-family="Liberation Sans" font-size="6.75" fill="#111">Hyper P</text>
</svg>
</body></html>
